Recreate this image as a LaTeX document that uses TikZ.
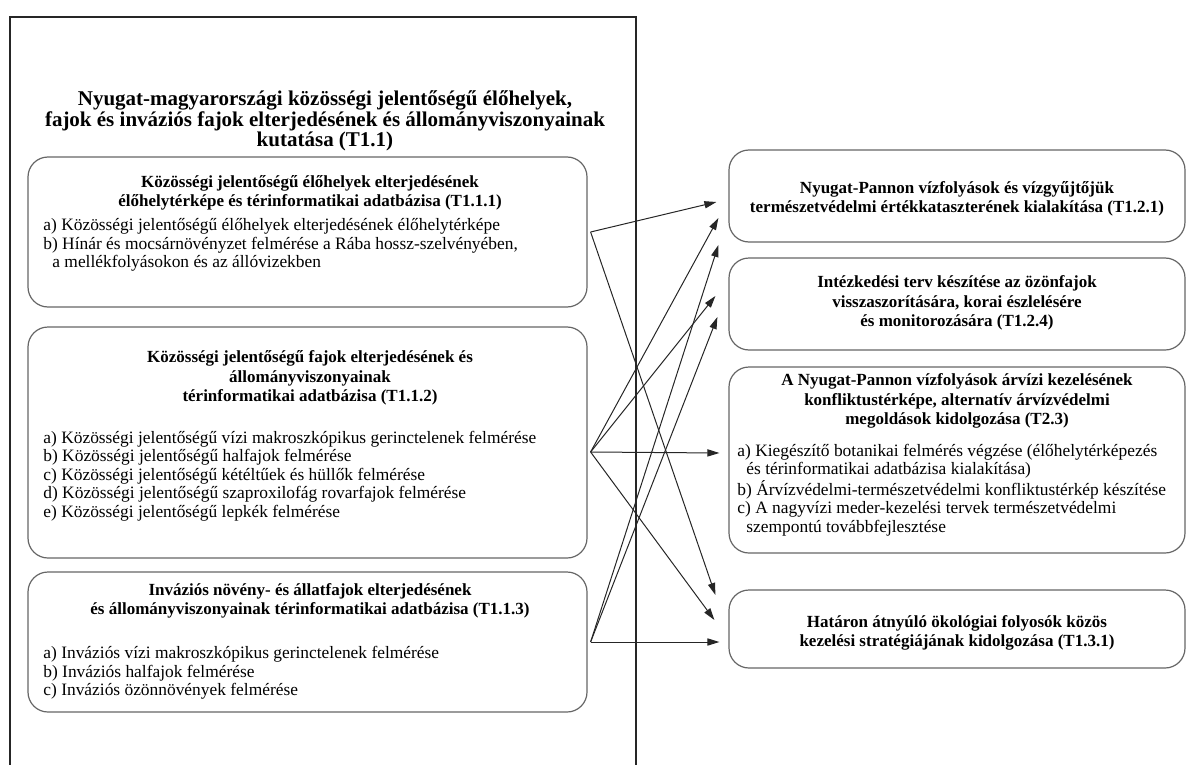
\documentclass[tikz,border=0pt]{standalone}
\usepackage{fontspec}
\setmainfont{Liberation Serif}
\usetikzlibrary{arrows.meta,calc}
\begin{document}
\begin{tikzpicture}[x=0.5pt,y=-0.5pt,
  frame/.style={draw=black!85, line width=0.7pt},
  box/.style={draw=black!60, line width=0.6pt, rounded corners=10pt, inner sep=0pt},
  lbox/.style={box, minimum width=279.5pt},
  rbox/.style={box, minimum width=228pt},
  maintitle/.style={align=center, inner sep=0pt, font=\fontsize{10.5}{10.2}\selectfont\bfseries},
  btitle/.style={align=center, inner sep=0pt, font=\fontsize{8.5}{9.75}\selectfont\bfseries},
  items/.style={align=left, inner sep=0pt, anchor=west, font=\fontsize{8.7}{9.2}\selectfont},
  conn/.style={draw=black!85, line width=0.5pt, -{Triangle[length=6pt,width=3.6pt]}}
]
\useasboundingbox (0,0) rectangle (1188,765);
% outer frame
\draw[frame] (10,765) -- (10,17) -- (636,17) -- (636,765);
\node[maintitle] (t0) at (325,121) {Nyugat-magyarországi közösségi jelentőségű élőhelyek,\\fajok és inváziós fajok elterjedésének és állományviszonyainak\\kutatása (T1.1)};

% left boxes
\node[lbox, minimum height=75pt] (b1) at (307.5,232) {};
\node[lbox, minimum height=115.5pt] (b2) at (307.5,442.5) {};
\node[lbox, minimum height=70pt] (b3) at (307.5,642) {};

\node[btitle] (b1t) at (310,193) {Közösségi jelentőségű élőhelyek elterjedésének\\élőhelytérképe és térinformatikai adatbázisa (T1.1.1)};
\node[items] (b1i) at (43,245) {a) Közösségi jelentőségű élőhelyek elterjedésének élőhelytérképe\\b) Hínár és mocsárnövényzet felmérése a Rába hossz-szelvényében,\\\hspace*{4.5pt}a mellékfolyásokon és az állóvizekben};

\node[btitle] (b2t) at (310,378) {Közösségi jelentőségű fajok elterjedésének és\\állományviszonyainak\\térinformatikai adatbázisa (T1.1.2)};
\node[items] (b2i) at (43,476) {a) Közösségi jelentőségű vízi makroszkópikus gerinctelenek felmérése\\b) Közösségi jelentőségű halfajok felmérése\\c) Közösségi jelentőségű kétéltűek és hüllők felmérése\\d) Közösségi jelentőségű szaproxilofág rovarfajok felmérése\\e) Közösségi jelentőségű lepkék felmérése};

\node[btitle] (b3t) at (310,601) {Inváziós növény- és állatfajok elterjedésének\\és állományviszonyainak térinformatikai adatbázisa (T1.1.3)};
\node[items] (b3i) at (43,673) {a) Inváziós vízi makroszkópikus gerinctelenek felmérése\\b) Inváziós halfajok felmérése\\c) Inváziós özönnövények felmérése};

% right boxes
\node[rbox, minimum height=46pt] (r1) at (957,196) {};
\node[rbox, minimum height=46pt] (r2) at (957,304) {};
\node[rbox, minimum height=93pt] (r3) at (957,460) {};
\node[rbox, minimum height=39pt] (r4) at (957,629) {};

\node[btitle] (r1t) at (957,199) {Nyugat-Pannon vízfolyások és vízgyűjtőjük\\természetvédelmi értékkataszterének kialakítása (T1.2.1)};
\node[btitle] (r2t) at (957,303) {Intézkedési terv készítése az özönfajok\\visszaszorítására, korai észlelésére\\és monitorozására (T1.2.4)};
\node[btitle] (r3t) at (957,401) {A Nyugat-Pannon vízfolyások árvízi kezelésének\\konfliktustérképe, alternatív árvízvédelmi\\megoldások kidolgozása (T2.3)};
\node[items] (r3i) at (737,490) {a) Kiegészítő botanikai felmérés végzése (élőhelytérképezés\\\hspace*{4.5pt}és térinformatikai adatbázisa kialakítása)\\b) Árvízvédelmi-természetvédelmi konfliktustérkép készítése\\c) A nagyvízi meder-kezelési tervek természetvédelmi\\\hspace*{4.5pt}szempontú továbbfejlesztése};
\node[btitle] (r4t) at (957,633) {Határon átnyúló ökológiai folyosók közös\\kezelési stratégiájának kidolgozása (T1.3.1)};

% connectors
\draw[conn] ($(b1.east)+(3,0)$) -- ($(r1.west)+(-12,6)$);
\draw[conn] ($(b1.east)+(3,0)$) -- ($(r4.west)+(-13,-34)$);
\draw[conn] ($(b2.east)+(3,9.5)$) -- ($(r1.west)+(-10,22)$);
\draw[conn] ($(b2.east)+(3,9.5)$) -- ($(r2.west)+(-13,-8)$);
\draw[conn] ($(b2.east)+(3,9.5)$) -- ($(r3.west)+(-9,-7)$);
\draw[conn] ($(b2.east)+(3,9.5)$) -- ($(r4.west)+(-14,-9)$);
\draw[conn] ($(b3.east)+(3,0)$) -- ($(r1.west)+(-10,49)$);
\draw[conn] ($(b3.east)+(3,0)$) -- ($(r2.west)+(-11,13)$);
\draw[conn] ($(b3.east)+(3,0)$) -- ($(r4.west)+(-9,13)$);
\end{tikzpicture}
\end{document}
